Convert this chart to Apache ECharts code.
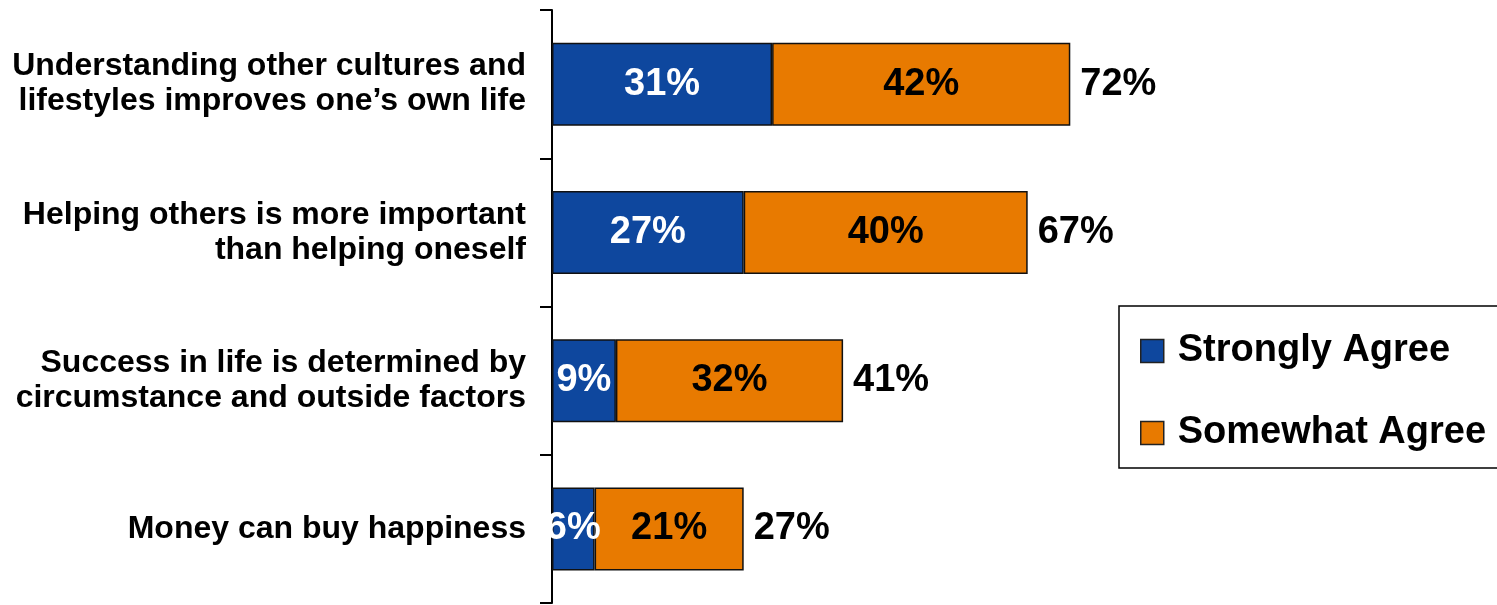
<!DOCTYPE html>
<html><head><meta charset="utf-8">
<script src="https://cdn.jsdelivr.net/npm/echarts@6/dist/echarts.min.js"></script>
<style>html,body{margin:0;padding:0;background:#fff}#c{width:1497px;height:605px}</style>
</head><body><div id="c"></div>
<script>
var categories = [
  "Understanding other cultures and\nlifestyles improves one\u2019s own life",
  "Helping others is more important\nthan helping oneself",
  "Success in life is determined by\ncircumstance and outside factors",
  "Money can buy happiness"
];
var stronglyAgree = [31, 27, 9, 6];
var somewhatAgree = [42, 40, 32, 21];
var totalLabels = [72, 67, 41, 27];

var FONT = 'Liberation Sans';
var chart = echarts.init(document.getElementById('c'), null, {renderer: 'canvas'});
chart.setOption({
  animation: false,
  grid: {left: 552, top: 10, width: 710, height: 593, containLabel: false},
  xAxis: {type: 'value', min: 0, max: 100, show: false},
  yAxis: {
    type: 'category', data: categories, inverse: true,
    axisLine: {show: true, lineStyle: {color: '#000', width: 2}},
    axisTick: {show: true, length: 12, lineStyle: {color: '#000', width: 2}},
    axisLabel: {margin: 26, color: '#000', fontFamily: FONT, fontWeight: 'bold', fontSize: 32, lineHeight: 35, align: 'right'}
  },
  legend: {
    orient: 'vertical', left: 1119, top: 306,
    padding: [26, 60, 16, 21],
    itemGap: 44, itemWidth: 23, itemHeight: 23,
    borderColor: '#000', borderWidth: 1.5,
    icon: 'rect',
    itemStyle: {borderColor: '#222', borderWidth: 1.5},
    textStyle: {fontFamily: FONT, fontWeight: 'bold', fontSize: 38, color: '#000', lineHeight: 38, padding: [0, 0, 0, 9]},
    data: ['Strongly Agree', 'Somewhat Agree']
  },
  series: [
    {
      name: 'Strongly Agree', type: 'bar', stack: 't', barWidth: 83,
      data: stronglyAgree,
      itemStyle: {color: '#0E479E', borderColor: '#111', borderWidth: 1.5},
      label: {show: true, position: 'inside', formatter: '{c}%', color: '#fff', fontFamily: FONT, fontWeight: 'bold', fontSize: 38, padding: [4, 0, 0, 0]}
    },
    {
      name: 'Somewhat Agree', type: 'bar', stack: 't', barWidth: 83,
      data: somewhatAgree,
      itemStyle: {color: '#E87A00', borderColor: '#111', borderWidth: 1.5},
      label: {show: true, position: 'inside', formatter: '{c}%', color: '#000', fontFamily: FONT, fontWeight: 'bold', fontSize: 38, padding: [4, 0, 0, 0]}
    },
    {
      name: 'Total', type: 'bar', stack: 't', barWidth: 83,
      data: totalLabels.map(function(){ return 0; }),
      itemStyle: {color: 'rgba(0,0,0,0)'},
      label: {show: true, position: 'right', distance: 10, padding: [4, 0, 0, 0],
        formatter: function(p){ return totalLabels[p.dataIndex] + '%'; },
        color: '#000', fontFamily: FONT, fontWeight: 'bold', fontSize: 38}
    }
  ]
});
</script></body></html>
